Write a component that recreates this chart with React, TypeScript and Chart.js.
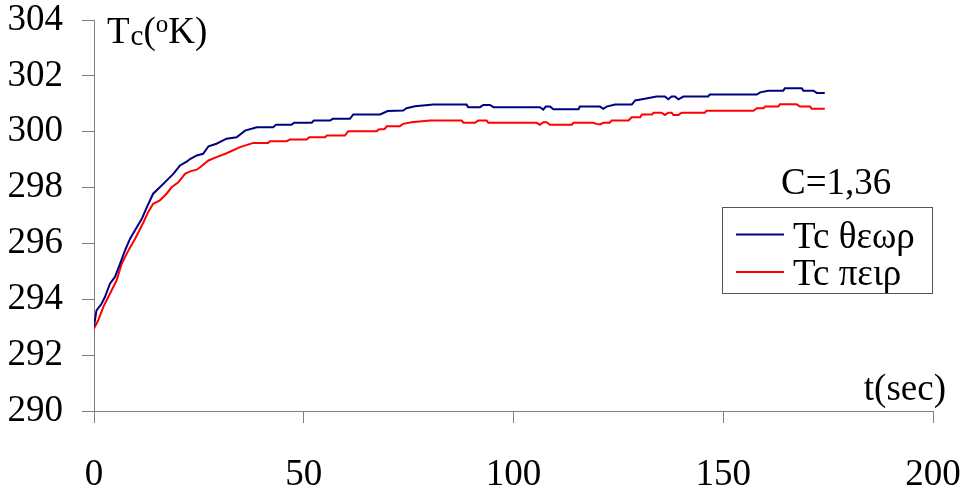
import React, { useEffect, useRef } from "react";
import { Chart, registerables } from "chart.js";

Chart.register(...registerables);

// Theoretical series (Tc θεωρ): time (sec) and temperature (°K)
const theorTime = [
  0, 0.6, 1.8, 2.6, 3.8, 5.0, 6.2, 7.4, 8.6, 10.2, 11.4, 12.6, 14.1, 15.7, 17.3, 18.9, 20.5, 22.1, 23.0,
  24.5, 26.0, 27.3, 29.2, 31.6, 34.0, 36.0, 38.8, 42.7, 43.4, 47.1, 47.7, 51.9, 52.4, 56.3, 56.9, 61.0,
  61.8, 68.2, 70.0, 73.7, 74.5, 76.5, 80.9, 88.8, 89.2, 92.0, 92.8, 94.4, 95.2, 106.3, 107.1, 107.7,
  108.7, 109.5, 115.5, 115.8, 120.6, 121.4, 122.2, 124.2, 128.2, 129.0, 131.3, 134.1, 136.1, 136.9,
  137.7, 138.5, 139.3, 140.5, 146.4, 146.8, 158.0, 158.8, 160.7, 164.3, 164.7, 168.7, 169.1, 171.5,
  172.3, 174.2,
];
const theorTemp = [
  293.05, 293.6, 293.84, 294.08, 294.56, 294.8, 295.27, 295.75, 296.17, 296.58, 296.88, 297.3, 297.78,
  298.01, 298.25, 298.49, 298.79, 298.93, 299.03, 299.15, 299.21, 299.48, 299.57, 299.75, 299.8, 300.04,
  300.16, 300.16, 300.25, 300.25, 300.32, 300.32, 300.4, 300.4, 300.46, 300.46, 300.62, 300.62, 300.74,
  300.76, 300.84, 300.91, 300.97, 300.97, 300.88, 300.88, 300.96, 300.96, 300.88, 300.88, 300.79, 300.9,
  300.9, 300.8, 300.8, 300.9, 300.9, 300.82, 300.9, 300.97, 300.97, 301.12, 301.18, 301.26, 301.26,
  301.16, 301.26, 301.26, 301.16, 301.26, 301.26, 301.33, 301.33, 301.41, 301.47, 301.47, 301.56, 301.56,
  301.47, 301.47, 301.39, 301.39,
];

// Experimental series (Tc πειρ)
const expTime = [
  0, 1.0, 2.2, 3.4, 4.6, 5.4, 6.6, 8.2, 9.8, 11.8, 12.9, 14.1, 15.7, 17.3, 18.5, 20.1, 21.7, 22.9, 24.5,
  25.3, 27.3, 29.2, 31.6, 34.8, 38.0, 41.5, 42.0, 45.9, 46.7, 50.7, 51.3, 55.1, 55.5, 59.8, 60.6, 67.4,
  67.8, 69.3, 69.8, 72.9, 73.7, 75.7, 80.1, 87.6, 88.1, 90.8, 91.6, 93.6, 94.0, 105.5, 106.3, 107.1,
  107.9, 108.7, 113.9, 114.3, 119.0, 119.8, 120.6, 121.4, 122.9, 123.4, 127.4, 128.2, 130.2, 130.6,
  133.0, 133.4, 135.3, 136.1, 136.9, 137.7, 138.1, 139.3, 140.1, 145.6, 146.0, 157.2, 158.0, 159.6,
  160.0, 163.1, 163.5, 167.5, 168.3, 170.7, 171.1, 174.2,
];
const expTemp = [
  292.95, 293.25, 293.72, 294.08, 294.44, 294.68, 295.27, 295.75, 296.17, 296.76, 297.12, 297.42, 297.54,
  297.78, 298.01, 298.19, 298.49, 298.58, 298.64, 298.73, 298.97, 299.09, 299.23, 299.45, 299.6, 299.6,
  299.66, 299.66, 299.72, 299.72, 299.8, 299.8, 299.86, 299.86, 300.02, 300.02, 300.08, 300.1, 300.2,
  300.2, 300.28, 300.34, 300.4, 300.4, 300.32, 300.32, 300.4, 300.4, 300.32, 300.32, 300.25, 300.34,
  300.34, 300.25, 300.25, 300.32, 300.32, 300.28, 300.26, 300.32, 300.32, 300.4, 300.4, 300.52, 300.52,
  300.62, 300.62, 300.68, 300.68, 300.6, 300.68, 300.68, 300.6, 300.6, 300.68, 300.68, 300.75, 300.75,
  300.84, 300.84, 300.9, 300.9, 300.98, 300.98, 300.9, 300.9, 300.82, 300.82,
];

const seriesLabels = ["Tc θεωρ", "Tc πειρ"];
const seriesColors = ["#000080", "#FF0000"];
const xMin = 0;
const xMax = 200;
const xStep = 50;
const yMin = 290;
const yMax = 304;
const yStep = 2;
const yTitleMain = "T";
const yTitleSub = "c";
const yTitleOpen = "(";
const yTitleSup = "o";
const yTitleEnd = "K)";
const xTitle = "t(sec)";
const note = "C=1,36";

const FONT = '"Liberation Serif", "Times New Roman", serif';
const AXIS_COLOR = "#808080";

const textPlugin = {
  id: "textPlugin",
  afterDraw(chart: any) {
    const ctx = chart.ctx as CanvasRenderingContext2D;
    ctx.save();
    ctx.fillStyle = "#000";
    ctx.textBaseline = "alphabetic";
    ctx.textAlign = "left";

    // y axis title Tc(oK)
    let x = 107;
    ctx.font = `37px ${FONT}`;
    ctx.fillText(yTitleMain, x, 43);
    x += ctx.measureText(yTitleMain).width;
    ctx.font = `29px ${FONT}`;
    ctx.fillText(yTitleSub, x + 1, 45);
    x += ctx.measureText(yTitleSub).width + 1;
    ctx.font = `37px ${FONT}`;
    ctx.fillText(yTitleOpen, x, 43);
    x += ctx.measureText(yTitleOpen).width;
    ctx.font = `25px ${FONT}`;
    ctx.fillText(yTitleSup, x, 32);
    x += ctx.measureText(yTitleSup).width;
    ctx.font = `37px ${FONT}`;
    ctx.fillText(yTitleEnd, x, 43);

    // x axis title
    ctx.textAlign = "right";
    ctx.fillText(xTitle, 946, 400);

    // note
    ctx.textAlign = "left";
    ctx.fillText(note, 781, 194);

    // legend box
    const bx = 722.5, by = 207.5, bw = 210, bh = 86;
    ctx.fillStyle = "#fff";
    ctx.fillRect(bx, by, bw, bh);
    ctx.strokeStyle = "#555";
    ctx.lineWidth = 1;
    ctx.strokeRect(bx, by, bw, bh);
    const rows = [234.5, 272];
    chart.data.datasets.forEach((ds: any, i: number) => {
      ctx.strokeStyle = ds.borderColor;
      ctx.lineWidth = 2;
      ctx.beginPath();
      ctx.moveTo(736, rows[i]);
      ctx.lineTo(784, rows[i]);
      ctx.stroke();
      ctx.fillStyle = "#000";
      ctx.font = `37px ${FONT}`;
      ctx.fillText(ds.label, 793, rows[i] + 13);
    });
    ctx.restore();
  },
};

function zeroPadding(scale: any) {
  scale.paddingLeft = 0;
  scale.paddingRight = 0;
  scale.paddingTop = 0;
  scale.paddingBottom = 0;
}

export default function App() {
  const canvasRef = useRef<HTMLCanvasElement | null>(null);

  useEffect(() => {
    const canvas = canvasRef.current;
    if (!canvas) return;
    const theor = theorTime.map((t, i) => ({ x: t, y: theorTemp[i] }));
    const exp = expTime.map((t, i) => ({ x: t, y: expTemp[i] }));
    const tickFont = { family: FONT, size: 37, lineHeight: 1 };

    const chart = new Chart(canvas, {
      type: "line",
      data: {
        datasets: [
          {
            label: seriesLabels[0],
            data: theor,
            borderColor: seriesColors[0],
            backgroundColor: seriesColors[0],
            borderWidth: 2,
            pointRadius: 0,
            tension: 0,
            fill: false,
          },
          {
            label: seriesLabels[1],
            data: exp,
            borderColor: seriesColors[1],
            backgroundColor: seriesColors[1],
            borderWidth: 2,
            pointRadius: 0,
            tension: 0,
            fill: false,
          },
        ],
      },
      options: {
        responsive: false,
        animation: false,
        devicePixelRatio: 1,
        layout: { padding: { top: 20, right: 33, left: 0, bottom: 0 } },
        plugins: {
          legend: { display: false },
          tooltip: { enabled: false },
          title: { display: false },
        },
        scales: {
          x: {
            type: "linear",
            min: xMin,
            max: xMax,
            ticks: {
              stepSize: xStep,
              color: "#000",
              font: tickFont,
              padding: 34,
              maxRotation: 0,
              autoSkip: false,
            },
            grid: {
              drawOnChartArea: false,
              drawTicks: true,
              tickLength: 12,
              color: AXIS_COLOR,
              tickColor: AXIS_COLOR,
            },
            border: { color: AXIS_COLOR, width: 1 },
            afterFit(scale: any) {
              scale.height = 79;
              zeroPadding(scale);
            },
          },
          y: {
            type: "linear",
            min: yMin,
            max: yMax,
            ticks: {
              stepSize: yStep,
              color: "#000",
              font: tickFont,
              padding: 19,
              autoSkip: false,
            },
            grid: {
              drawOnChartArea: false,
              drawTicks: true,
              tickLength: 12,
              color: AXIS_COLOR,
              tickColor: AXIS_COLOR,
            },
            border: { color: AXIS_COLOR, width: 1 },
            afterFit(scale: any) {
              scale.width = 94;
              zeroPadding(scale);
            },
          },
        },
      },
      plugins: [textPlugin],
    });

    return () => {
      chart.destroy();
    };
  }, []);

  return (
    <div style={{ position: "absolute", left: 0, top: 0, width: 966, height: 490, background: "#fff" }}>
      <canvas ref={canvasRef} width={966} height={490} style={{ display: "block" }} />
    </div>
  );
}
